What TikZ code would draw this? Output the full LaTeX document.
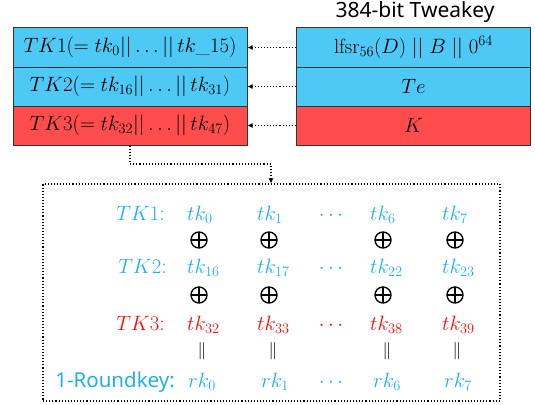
\documentclass[tikz,border=0pt]{standalone}
\usepackage{fontspec}
\setsansfont{Noto Sans}
\usetikzlibrary{arrows.meta}
\definecolor{boxblue}{RGB}{78,200,245}
\definecolor{boxred}{RGB}{255,76,76}
\definecolor{txtblue}{RGB}{30,176,236}
\definecolor{txtred}{RGB}{255,10,10}
\tikzset{
  keybox/.style={draw=black!80, line width=1pt, minimum width=234pt, minimum height=39pt, inner sep=0pt, font=\fontsize{20.5}{23}\selectfont},
  bluebox/.style={keybox, fill=boxblue},
  redbox/.style={keybox, fill=boxred},
  conn/.style={dotted, line width=1.1pt, -{Latex[length=5pt,width=5pt]}},
  mth/.style={font=\fontsize{22}{25}\selectfont, inner sep=0pt},
  cell/.style={mth, anchor=base west},
  lbl/.style={mth, anchor=base east},
  opl/.style={circle, draw, line width=1.4pt, minimum size=16pt, inner sep=0pt,
    path picture={\draw[line width=1.4pt] (path picture bounding box.north) -- (path picture bounding box.south)
      (path picture bounding box.west) -- (path picture bounding box.east);}},
  eqs/.style={font=\fontsize{17}{19}\selectfont, inner sep=0pt},
}
\begin{document}
\begin{tikzpicture}[x=1pt,y=-1pt]
\useasboundingbox (0,0) rectangle (535,404);
\node[font=\sffamily\fontsize{21}{24}\selectfont] (title) at (415,12) {384-bit Tweakey};
% left boxes
\node[bluebox] (l1) at (130,47.5) {$TK1(=tk_0||\ldots||\,tk\_15)$};
\node[bluebox] (l2) at (130,86.5) {$TK2(=tk_{16}||\ldots||\,tk_{31})$};
\node[redbox]  (l3) at (130,125.5) {$TK3(=tk_{32}||\ldots||\,tk_{47})$};
% right boxes
\node[bluebox] (r1) at (413.5,47.5) {$\mathrm{lfsr}_{56}(D)\;||\;B\;||\;0^{64}$};
\node[bluebox] (r2) at (413.5,86.5) {$Te$};
\node[redbox]  (r3) at (413.5,125.5) {$K$};
\draw[conn] (r1.west) -- (l1.east);
\draw[conn] (r2.west) -- (l2.east);
\draw[conn] (r3.west) -- (l3.east);
% big box
\node[draw, dotted, line width=1.1pt, minimum width=457pt, minimum height=217pt, inner sep=0pt] (big) at (271.5,292.5) {};
\coordinate (bend) at (271,164);
\draw[conn] (l3.south) |- (bend) -- (bend |- big.north);
% labels
\node[lbl, text=txtblue] (k1) at (165,220) {$TK1$:};
\node[lbl, text=txtblue] (k2) at (167,273) {$TK2$:};
\node[lbl, text=txtred] (k3) at (165,330) {$TK3$:};
\node[lbl, text=txtblue, font=\sffamily\fontsize{20.5}{24}\selectfont] (k4) at (175,387) {1-Roundkey:};
% row TK1
\node[cell, text=txtblue] (a0) at (187,220) {$tk_0$};
\node[cell, text=txtblue] (a1) at (257,220) {$tk_1$};
\node[mth, text=txtblue, anchor=base] (ad) at (331,220) {$\cdots$};
\node[cell, text=txtblue] (a6) at (370,220) {$tk_6$};
\node[cell, text=txtblue] (a7) at (442,220) {$tk_7$};
% oplus 1
\node[opl] (p0) at (199,240) {};
\node[opl] (p1) at (269,240) {};
\node[opl] (p6) at (383,240) {};
\node[opl] (p7) at (455,240) {};
% row TK2
\node[cell, text=txtblue] (b0) at (187,273) {$tk_{16}$};
\node[cell, text=txtblue] (b1) at (257,273) {$tk_{17}$};
\node[mth, text=txtblue, anchor=base] (bd) at (331,273) {$\cdots$};
\node[cell, text=txtblue] (b6) at (370,273) {$tk_{22}$};
\node[cell, text=txtblue] (b7) at (442,273) {$tk_{23}$};
% oplus 2
\node[opl] (q0) at (199,295) {};
\node[opl] (q1) at (269,295) {};
\node[opl] (q6) at (383,295) {};
\node[opl] (q7) at (455,295) {};
% row TK3
\node[cell, text=txtred] (c0) at (187,330) {$tk_{32}$};
\node[cell, text=txtred] (c1) at (257,330) {$tk_{33}$};
\node[mth, text=txtred, anchor=base] (cd) at (331,330) {$\cdots$};
\node[cell, text=txtred] (c6) at (370,330) {$tk_{38}$};
\node[cell, text=txtred] (c7) at (442,330) {$tk_{39}$};
% equals
\node[eqs] (e0) at (202,351) {$\|$};
\node[eqs] (e1) at (273,351) {$\|$};
\node[eqs] (e6) at (387,351) {$\|$};
\node[eqs] (e7) at (457,351) {$\|$};
% row rk
\node[cell, text=txtblue] (d0) at (188,387) {$rk_0$};
\node[cell, text=txtblue] (d1) at (261,387) {$rk_1$};
\node[mth, text=txtblue, anchor=base] (dd) at (331,387) {$\cdots$};
\node[cell, text=txtblue] (d6) at (373,387) {$rk_6$};
\node[cell, text=txtblue] (d7) at (444,387) {$rk_7$};
\end{tikzpicture}
\end{document}
